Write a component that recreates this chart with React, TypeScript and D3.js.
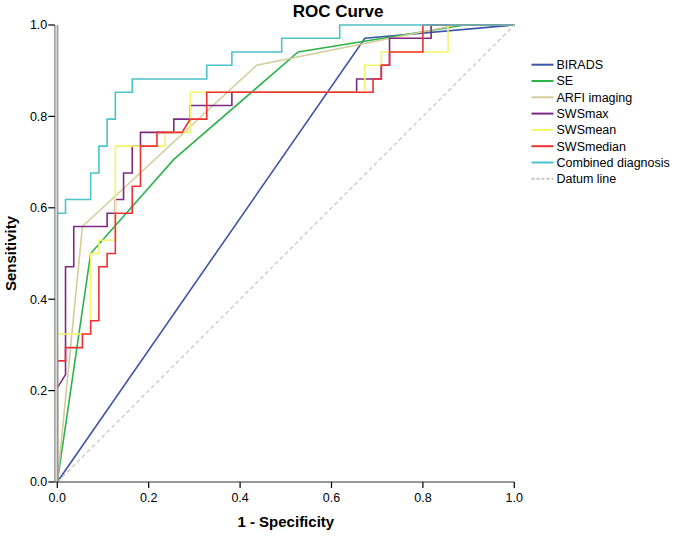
import React from 'react';
import * as d3 from 'd3';

// ROC points [1 - specificity, sensitivity]
const birads = [[0, 0], [0.673, 0.971], [1, 1]];
const se = [[0, 0], [0.073, 0.5], [0.255, 0.706], [0.527, 0.941], [0.891, 1], [1, 1]];
const arfi = [[0, 0], [0.055, 0.559], [0.436, 0.912], [0.873, 1], [1, 1]];
const swsMax = [
  [0, 0], [0, 0.206], [0.018, 0.235], [0.018, 0.471], [0.036, 0.471], [0.036, 0.559],
  [0.109, 0.559], [0.109, 0.588], [0.127, 0.588], [0.127, 0.618], [0.145, 0.618], [0.145, 0.676],
  [0.164, 0.676], [0.164, 0.735], [0.182, 0.735], [0.182, 0.765], [0.255, 0.765], [0.255, 0.794],
  [0.291, 0.794], [0.291, 0.824], [0.382, 0.824], [0.382, 0.853], [0.655, 0.853], [0.655, 0.882],
  [0.709, 0.882], [0.709, 0.912], [0.727, 0.912], [0.727, 0.971], [0.818, 0.971], [0.818, 1], [1, 1],
];
const swsMean = [
  [0, 0], [0, 0.324], [0.073, 0.324], [0.073, 0.5], [0.091, 0.5], [0.091, 0.529],
  [0.127, 0.529], [0.127, 0.735], [0.236, 0.735], [0.236, 0.765], [0.291, 0.765], [0.291, 0.853],
  [0.673, 0.853], [0.673, 0.912], [0.709, 0.912], [0.709, 0.941], [0.855, 0.941], [0.855, 1], [1, 1],
];
const swsMedian = [
  [0, 0], [0, 0.265], [0.018, 0.265], [0.018, 0.294], [0.055, 0.294], [0.055, 0.324],
  [0.073, 0.324], [0.073, 0.353], [0.091, 0.353], [0.091, 0.471], [0.109, 0.471], [0.109, 0.5],
  [0.127, 0.5], [0.127, 0.588], [0.164, 0.588], [0.164, 0.647], [0.182, 0.647], [0.182, 0.735],
  [0.218, 0.735], [0.218, 0.765], [0.273, 0.765], [0.291, 0.794], [0.327, 0.794], [0.327, 0.853],
  [0.691, 0.853], [0.691, 0.882], [0.709, 0.882], [0.709, 0.912], [0.727, 0.912], [0.727, 0.941],
  [0.8, 0.941], [0.8, 1], [1, 1],
];
const combined = [
  [0, 0], [0, 0.588], [0.018, 0.588], [0.018, 0.618], [0.073, 0.618], [0.073, 0.676],
  [0.091, 0.676], [0.091, 0.735], [0.109, 0.735], [0.109, 0.794], [0.127, 0.794], [0.127, 0.853],
  [0.164, 0.853], [0.164, 0.882], [0.327, 0.882], [0.327, 0.912], [0.382, 0.912], [0.382, 0.941],
  [0.491, 0.941], [0.491, 0.971], [0.618, 0.971], [0.618, 1], [1, 1],
];
const datum = [[0, 0], [1, 1]];

const seriesNames = ['BIRADS', 'SE', 'ARFI imaging', 'SWSmax', 'SWSmean', 'SWSmedian', 'Combined diagnosis', 'Datum line'];
const seriesData = [birads, se, arfi, swsMax, swsMean, swsMedian, combined, datum];
const seriesColors = ['#3d55a8', '#2bb34a', '#d4cc9a', '#7b2a80', '#f7f36a', '#ee3035', '#4cc3c8', '#c4c4c4'];
const ticks = [0, 0.2, 0.4, 0.6, 0.8, 1.0];

const font = '"Liberation Sans", Arial, sans-serif';

export default function App() {
  const width = 675;
  const height = 539;
  const x = d3.scaleLinear().domain([0, 1]).range([57.3, 514.3]);
  const y = d3.scaleLinear().domain([0, 1]).range([482, 25]);
  const line = d3.line<number[]>().x(d => x(d[0])).y(d => y(d[1]));

  return (
    <svg width={width} height={height} style={{ position: 'absolute', left: 0, top: 0, background: '#fff' }}>
      <rect width={width} height={height} fill="#fff" />
      <text x={338} y={17} textAnchor="middle" fontFamily={font} fontWeight="bold" fontSize={17}>ROC Curve</text>

      {/* curves */}
      {seriesData.map((d, i) => (
        <path key={seriesNames[i]} d={line(d) || ''} fill="none" stroke={seriesColors[i]}
          strokeWidth={i === 7 ? 1.2 : 1.6} strokeDasharray={i === 7 ? '4,3' : undefined} />
      ))}

      {/* y axis: SPSS style double grey rule */}
      <rect x={x(0) - 2.5} y={y(1)} width={3} height={y(0) - y(1)} fill="#d9d9d9" />
      <line x1={x(0) - 2.5} x2={x(0) - 2.5} y1={y(1)} y2={y(0)} stroke="#808080" strokeWidth={1} />
      <line x1={x(0) + 0.5} x2={x(0) + 0.5} y1={y(1)} y2={y(0)} stroke="#808080" strokeWidth={1} />
      {ticks.map(t => (
        <g key={'y' + t}>
          <line x1={x(0) - 9} x2={x(0) - 2.5} y1={y(t)} y2={y(t)} stroke="#000" strokeWidth={1.2} />
          <text x={x(0) - 10} y={y(t)} dy="0.35em" textAnchor="end" fontFamily={font} fontSize={12.5}>{t.toFixed(1)}</text>
        </g>
      ))}

      {/* x axis */}
      <line x1={x(0) - 2.5} x2={x(1)} y1={y(0)} y2={y(0)} stroke="#333" strokeWidth={1.2} />
      {ticks.map(t => (
        <g key={'x' + t}>
          <line x1={x(t)} x2={x(t)} y1={y(0)} y2={y(0) + 6} stroke="#000" strokeWidth={1.2} />
          <text x={x(t)} y={y(0) + 20} textAnchor="middle" fontFamily={font} fontSize={12.5}>{t.toFixed(1)}</text>
        </g>
      ))}

      <text x={(x(0) + x(1)) / 2} y={527} textAnchor="middle" fontFamily={font} fontWeight="bold" fontSize={15}>1 - Specificity</text>
      <text transform={`translate(16,${(y(0) + y(1)) / 2}) rotate(-90)`} textAnchor="middle" fontFamily={font}
        fontWeight="bold" fontSize={15}>Sensitivity</text>

      {/* legend */}
      {seriesNames.map((name, i) => {
        const ly = 64.7 + i * 16.3;
        return (
          <g key={'lg' + name}>
            <line x1={531.5} x2={553.5} y1={ly} y2={ly} stroke={seriesColors[i]} strokeWidth={2}
              strokeDasharray={i === 7 ? '3,2' : undefined} />
            <text x={556.5} y={ly} dy="0.35em" fontFamily={font} fontSize={12.5}>{name}</text>
          </g>
        );
      })}
    </svg>
  );
}
